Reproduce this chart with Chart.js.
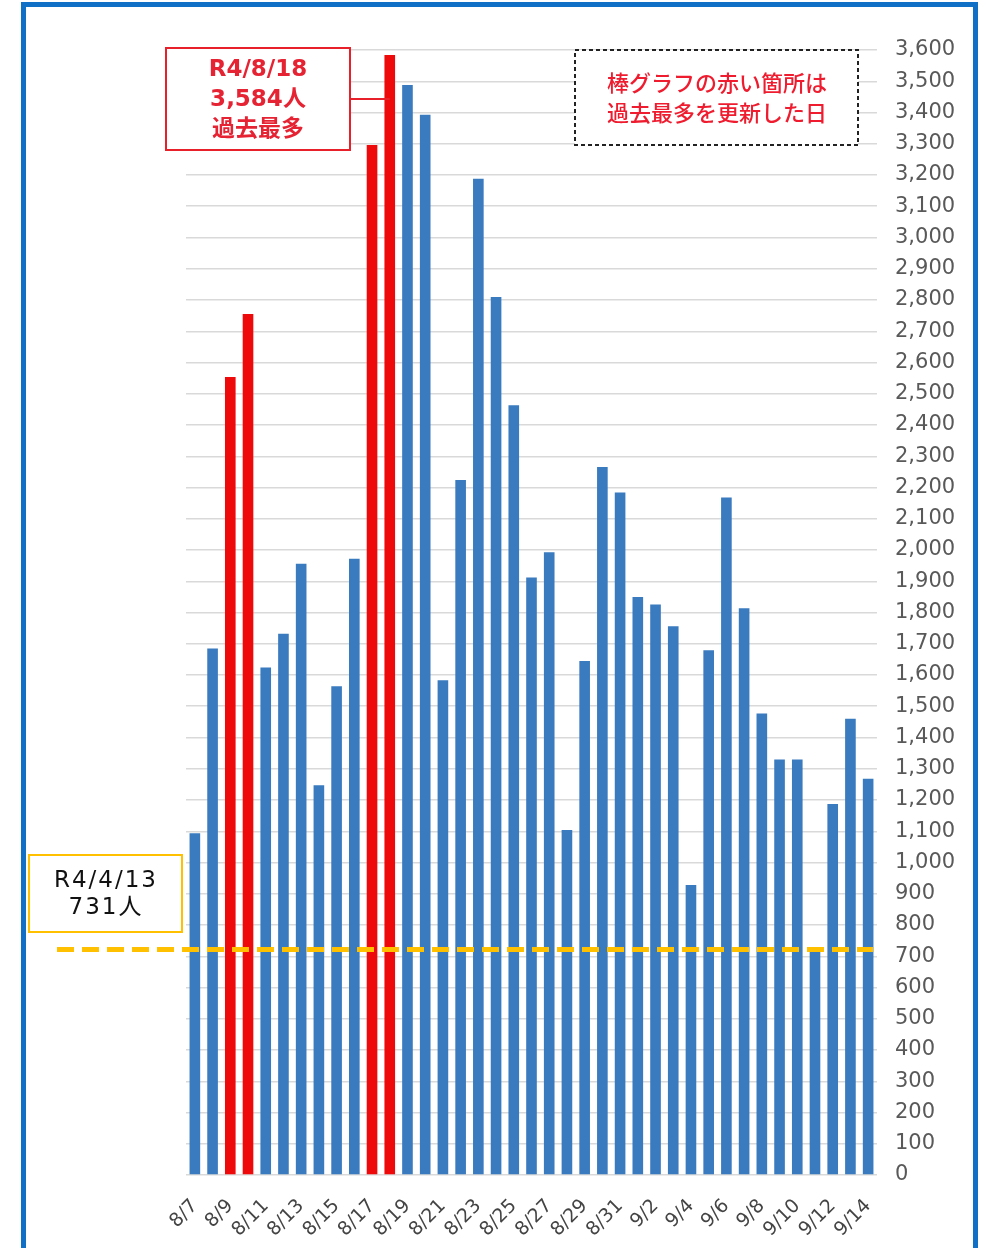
<!DOCTYPE html>
<html lang="ja">
<head>
<meta charset="utf-8">
<script src="https://cdn.jsdelivr.net/npm/chart.js@4.4.1/dist/chart.umd.min.js"></script>
<style>
  html, body { margin: 0; padding: 0; background: #fff; overflow: hidden; }
  #wrap { position: relative; width: 986px; height: 1248px; }
  #frame { position: absolute; left: 21px; top: 2px; width: 947px; height: 1300px; border: 5px solid #1070c6; }
  canvas { position: absolute; left: 0; top: 0; }
</style>
</head>
<body>
<div id="wrap">
  <div id="frame"></div>
  <canvas id="myChart" width="986" height="1248"></canvas>
</div>
<script>
const dates = [
  '8/7', '8/8', '8/9', '8/10', '8/11', '8/12', '8/13', '8/14', '8/15', '8/16',
  '8/17', '8/18', '8/19', '8/20', '8/21', '8/22', '8/23', '8/24', '8/25', '8/26',
  '8/27', '8/28', '8/29', '8/30', '8/31', '9/1', '9/2', '9/3', '9/4', '9/5',
  '9/6', '9/7', '9/8', '9/9', '9/10', '9/11', '9/12', '9/13', '9/14'
];
const cases = [
  1094, 1685, 2554, 2755, 1624, 1732, 1956, 1247, 1564, 1972,
  3296, 3584, 3488, 3393, 1583, 2224, 3188, 2810, 2463, 1912,
  1993, 1104, 1645, 2266, 2184, 1850, 1826, 1756, 928, 1679,
  2168, 1814, 1477, 1330, 1330, 715, 1187, 1460, 1268
];
// days that set a new record (red bars)
const recordDays = ['8/9', '8/10', '8/17', '8/18'];

const yMax = 3600;
const yStep = 100;

const peakDay = '8/18';
const peakLines = ['R4/8/18', '3,584人', '過去最多'];
const noteLines = ['棒グラフの赤い箇所は', '過去最多を更新した日'];
const prevValue = 731;
const prevLines = ['R4/4/13', '731人'];

const blue = '#3a7bc0';
const red = '#ee0a0a';
const barColors = dates.map(d => recordDays.includes(d) ? red : blue);

const notes = {
  id: 'notes',
  afterDatasetsDraw(chart) {
    const { ctx, chartArea, scales: { y } } = chart;
    const yy = y.getPixelForValue(prevValue) + 3;
    ctx.save();
    ctx.strokeStyle = '#ffc000';
    ctx.lineWidth = 5;
    ctx.setLineDash([17, 8]);
    ctx.beginPath();
    ctx.moveTo(57, yy);
    ctx.lineTo(chartArea.right - 4, yy);
    ctx.stroke();
    ctx.restore();
  },
  afterDraw(chart) {
    const { ctx, scales: { x } } = chart;
    ctx.save();
    ctx.textAlign = 'center';
    ctx.textBaseline = 'middle';

    // record box
    const py = 99;
    ctx.strokeStyle = '#e8202a';
    ctx.lineWidth = 2;
    ctx.beginPath();
    ctx.moveTo(350, py);
    ctx.lineTo(x.getPixelForValue(dates.indexOf(peakDay)), py);
    ctx.stroke();
    ctx.fillStyle = '#fff';
    ctx.fillRect(166, 48, 184, 102);
    ctx.strokeRect(166, 48, 184, 102);
    ctx.fillStyle = '#e62333';
    ctx.font = 'bold 23px "DejaVu Sans", "Noto Sans CJK JP", sans-serif';
    peakLines.forEach((t, i) => ctx.fillText(t, 258, 70 + i * 30));

    // dashed note box
    ctx.fillStyle = '#fff';
    ctx.fillRect(575, 50, 283, 95);
    ctx.strokeStyle = '#222';
    ctx.setLineDash([4, 3]);
    ctx.strokeRect(575, 50, 283, 95);
    ctx.setLineDash([]);
    ctx.fillStyle = '#ee1c2e';
    ctx.font = '500 22px "Noto Sans CJK JP", sans-serif';
    noteLines.forEach((t, i) => ctx.fillText(t, 717, 83 + i * 30));

    // previous record box
    ctx.fillStyle = '#fff';
    ctx.fillRect(29, 855, 153, 77);
    ctx.strokeStyle = '#ffc000';
    ctx.lineWidth = 2;
    ctx.strokeRect(29, 855, 153, 77);
    ctx.fillStyle = '#111';
    ctx.font = '23px "DejaVu Sans", "Noto Sans CJK JP", sans-serif';
    ctx.letterSpacing = '2px';
    prevLines.forEach((t, i) => ctx.fillText(t, 106, 881 + i * 27));
    ctx.restore();
  }
};

const ctx = document.getElementById('myChart').getContext('2d');
const myChart = new Chart(ctx, {
  type: 'bar',
  data: {
    labels: dates,
    datasets: [{
      data: cases,
      backgroundColor: barColors,
      barPercentage: 0.6,
      categoryPercentage: 1,
      borderWidth: 0
    }]
  },
  options: {
    responsive: false,
    animation: false,
    layout: { padding: { left: 186, top: 50, right: 19, bottom: 0 } },
    plugins: { legend: { display: false }, tooltip: { enabled: false } },
    scales: {
      x: {
        grid: { display: false },
        border: { display: false },
        afterFit: (axis) => { axis.height = 73; },
        ticks: {
          autoSkip: false,
          maxRotation: 45,
          minRotation: 45,
          padding: 12,
          color: '#444',
          font: { family: '"DejaVu Sans", sans-serif', size: 19 },
          callback: (v, i) => i % 2 === 0 ? dates[i] : ''
        }
      },
      y: {
        position: 'right',
        min: 0,
        max: yMax,
        afterFit: (axis) => { axis.width = 90; },
        grid: { color: '#d9d9d9', lineWidth: 1.5, drawTicks: false },
        border: { display: false },
        ticks: {
          stepSize: yStep,
          padding: 18,
          color: '#595959',
          font: { family: '"DejaVu Sans", sans-serif', size: 21 },
          callback: (v) => v.toLocaleString('en-US')
        }
      }
    }
  },
  plugins: [notes]
});
</script>
</body>
</html>
